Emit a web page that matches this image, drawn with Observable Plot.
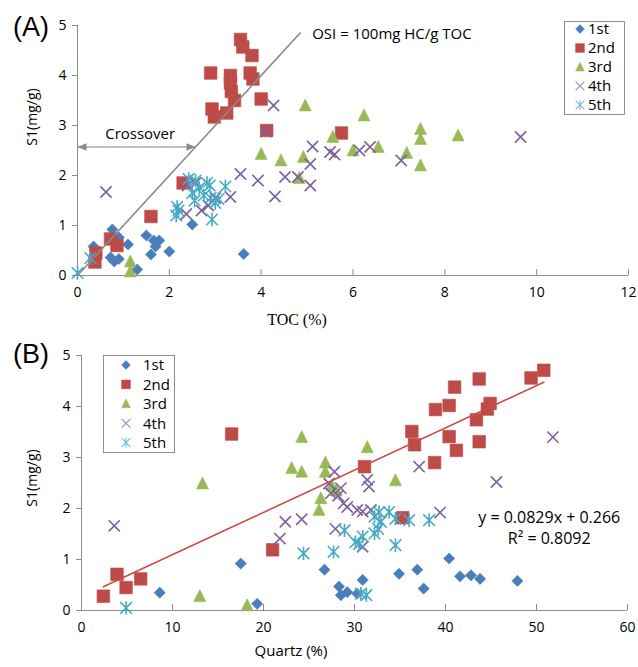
<!DOCTYPE html>
<html><head><meta charset="utf-8">
<script src="https://cdn.jsdelivr.net/npm/d3@7"></script>
<script src="https://cdn.jsdelivr.net/npm/@observablehq/plot@0.6"></script>
<style>
html,body{margin:0;padding:0;background:#fff;}
#wrap{position:relative;width:638px;height:667px;overflow:hidden;font-family:"Open Sans",sans-serif;color:#000;}
#wrap svg{display:block;}
.lbl{position:absolute;white-space:nowrap;line-height:1;}
.legend{position:absolute;border:1px solid #8c8c8c;background:#fff;box-sizing:border-box;}
.legend svg{overflow:visible;}
</style></head><body>
<div id="wrap"><div id="pa"></div><div id="pb"></div></div>
<script>
// ---------- data ----------
const seriesNames = ["1st", "2nd", "3rd", "4th", "5th"];
const seriesColors = ["#4A7EBB", "#BE4B48", "#98B954", "#7D60A0", "#46AAC5"];
const tocTicks = [0, 2, 4, 6, 8, 10, 12];
const quartzTicks = [0, 10, 20, 30, 40, 50, 60];
const s1Ticks = [0, 1, 2, 3, 4, 5];

// Panel A: [TOC (%), S1 (mg/g)]
const a1st = [[0.35,0.58],[0.76,0.92],[0.9,0.76],[1.1,0.62],[0.72,0.36],[0.9,0.33],[0.8,0.28],[1.3,0.12],[1.5,0.8],[1.66,0.7],[1.78,0.7],[1.6,0.42],[1.7,0.58],[2.0,0.48],[2.5,1.02],[3.62,0.43]];
const a2nd = [[0.38,0.27],[0.4,0.45],[0.72,0.73],[0.86,0.6],[1.6,1.18],[2.3,1.85],[2.9,4.05],[2.93,3.33],[2.98,3.17],[3.25,3.25],[3.33,4.0],[3.33,3.85],[3.35,3.68],[3.42,3.5],[3.55,4.72],[3.6,4.57],[3.8,4.4],[3.76,4.05],[3.82,3.93],[4.0,3.53],[4.12,2.9],[5.75,2.85]];
const a3rd = [[1.15,0.28],[1.15,0.08],[4.0,2.43],[4.43,2.3],[4.83,1.95],[4.92,2.37],[4.96,3.4],[5.56,2.77],[6.0,2.5],[6.24,3.2],[6.55,2.57],[7.17,2.45],[7.47,2.93],[7.47,2.73],[7.47,2.2],[8.29,2.8]];
const a4th = [[0.62,1.67],[2.37,1.23],[2.4,1.8],[2.57,1.85],[2.7,1.3],[2.85,1.4],[3.0,1.55],[3.33,1.57],[3.55,2.03],[3.93,1.9],[4.1,2.88],[4.27,3.4],[4.3,1.58],[4.52,1.97],[4.8,1.97],[5.07,2.23],[5.12,2.58],[5.07,1.8],[5.5,2.47],[5.6,2.42],[6.14,2.5],[6.37,2.57],[7.05,2.3],[9.65,2.77]];
const a5th = [[0.0,0.05],[0.28,0.35],[2.15,1.2],[2.17,1.37],[2.2,1.3],[2.42,1.93],[2.5,1.65],[2.55,1.5],[2.57,1.9],[2.65,1.75],[2.75,1.6],[2.82,1.85],[2.88,1.8],[2.9,1.55],[2.93,1.12],[3.0,1.45],[3.07,1.53],[3.22,1.78]];

// Panel B: [Quartz (%), S1 (mg/g)]
const b1st = [[8.6,0.35],[17.5,0.92],[19.3,0.13],[26.7,0.8],[28.3,0.47],[28.5,0.3],[29.2,0.36],[30.3,0.33],[30.9,0.6],[34.9,0.72],[36.9,0.8],[37.6,0.43],[40.4,1.02],[41.6,0.67],[42.8,0.69],[43.8,0.62],[47.9,0.58]];
const b2nd = [[2.4,0.28],[3.9,0.71],[4.9,0.45],[6.5,0.62],[16.5,3.46],[21.0,1.19],[31.1,2.82],[35.3,1.82],[36.3,3.51],[36.6,3.25],[38.9,3.94],[38.8,2.9],[40.4,3.41],[41.2,3.14],[40.4,4.02],[41.0,4.38],[43.7,4.54],[43.4,3.74],[43.7,3.31],[44.6,3.95],[44.9,4.06],[49.4,4.56],[50.8,4.71]];
const b3rd = [[13.0,0.28],[13.3,2.49],[18.2,0.1],[23.1,2.79],[24.2,3.4],[24.2,2.72],[26.1,1.97],[26.3,2.2],[26.8,2.9],[26.8,2.72],[27.5,2.45],[28.0,2.35],[31.4,3.2],[34.5,2.55]];
const b4th = [[3.6,1.66],[21.8,1.41],[22.4,1.74],[24.2,1.79],[27.2,2.49],[27.4,2.3],[27.8,2.72],[27.9,1.6],[28.2,2.25],[28.5,2.4],[28.8,2.1],[29.2,2.03],[30.3,1.97],[30.9,1.94],[30.9,1.25],[31.4,2.56],[31.6,2.43],[31.8,1.97],[37.1,2.82],[39.4,1.92],[45.6,2.52],[51.8,3.4]];
const b5th = [[4.9,0.05],[24.4,1.12],[27.7,1.15],[28.9,1.57],[30.1,1.34],[30.5,1.3],[30.7,0.33],[30.9,1.45],[31.3,0.3],[32.2,1.84],[32.2,1.51],[32.6,1.6],[32.7,1.93],[32.9,1.74],[33.8,1.93],[34.5,1.8],[34.5,1.28],[36.0,1.77],[38.2,1.77]];

// annotations
const osiTOC = [0, 4.85];            // OSI = 100 mg HC/g TOC  ->  S1 = TOC
const crossoverS1 = 2.57;            // dotted "Crossover" arrow level
const fitSlope = 0.0829, fitIntercept = 0.266;
const fitLabel = ["y = 0.0829x + 0.266", "R\u00b2 = 0.8092"];

// ---------- symbols (Excel-like markers) ----------
const half = s => Math.sqrt(s / Math.PI);
const symDiamond = {draw(c, s) { const h = half(s); c.moveTo(0, -h); c.lineTo(h, 0); c.lineTo(0, h); c.lineTo(-h, 0); c.closePath(); }};
const symSquare = {draw(c, s) { const h = half(s); c.moveTo(-h, -h); c.lineTo(h, -h); c.lineTo(h, h); c.lineTo(-h, h); c.closePath(); }};
const symTriangle = {draw(c, s) { const h = half(s); c.moveTo(0, -h * 1.1); c.lineTo(h, h * 0.9); c.lineTo(-h, h * 0.9); c.closePath(); }};
const symTimes = {draw(c, s) { const h = half(s); c.moveTo(-h, -h); c.lineTo(h, h); c.moveTo(-h, h); c.lineTo(h, -h); }};
const symStar = {draw(c, s) { const h = half(s); c.moveTo(-h, -h); c.lineTo(h, h); c.moveTo(-h, h); c.lineTo(h, -h); c.moveTo(0, -h * 1.15); c.lineTo(0, h * 1.15); }};
const symTipLeft = {draw(c) { c.moveTo(0, 0); c.lineTo(9, -3.8); c.lineTo(9, 3.8); c.closePath(); }};
const symTipRight = {draw(c) { c.moveTo(0, 0); c.lineTo(-9, -3.8); c.lineTo(-9, 3.8); c.closePath(); }};
const seriesSymbols = [symDiamond, symSquare, symTriangle, symTimes, symStar];
const seriesFilled = [true, true, true, false, false];
const seriesR = [5.6, 6.3, 6.0, 5.6, 5.8];

function seriesMarks(list) {
  return list.map((data, i) => Plot.dot(data, {
    x: d => d[0], y: d => d[1], symbol: seriesSymbols[i], r: seriesR[i],
    fill: seriesFilled[i] ? seriesColors[i] : "none",
    stroke: seriesColors[i], strokeWidth: seriesFilled[i] ? 0.6 : 1.6
  }));
}
const axisGray = "#8c8c8c";
function axesMarks(xTicks, plotH) {
  return [
    Plot.axisX(xTicks, {tickSize: 0, tickPadding: 12, label: null, tickFormat: d => String(d), fill: "#000", fontSize: 14}),
    Plot.axisY(s1Ticks, {tickSize: 5, tickPadding: 6, label: null, tickFormat: d => String(d), stroke: axisGray, fill: "#000", fontSize: 14}),
    Plot.tickX(xTicks, {x: d => d, stroke: axisGray, insetTop: plotH - 6}),
    Plot.ruleY([0], {stroke: axisGray}),
    Plot.ruleX([0], {stroke: axisGray})
  ];
}
const baseStyle = {fontFamily: "'Open Sans', sans-serif", fontSize: "14px", color: "#000", background: "transparent", overflow: "visible"};

// ---------- Panel A ----------
const A = {w: 638, h: 330, ml: 77, mr: 10, mt: 25, mb: 55};
const plotA = Plot.plot({
  width: A.w, height: A.h, marginLeft: A.ml, marginRight: A.mr, marginTop: A.mt, marginBottom: A.mb,
  x: {domain: [0, 12]}, y: {domain: [0, 5]}, style: baseStyle,
  marks: [
    ...axesMarks(tocTicks, A.h - A.mt - A.mb),
    ...seriesMarks([a1st, a2nd, a3rd, a4th, a5th]),
    Plot.line(osiTOC, {x: d => d, y: d => d, stroke: "#8a8a8a", strokeWidth: 1.6}),
    Plot.line([0, crossoverS1], {x: d => d, y: () => crossoverS1, stroke: "#9a9a9a", strokeWidth: 1.6, strokeDasharray: "1.6,1.6"}),
    Plot.dot([0], {x: d => d, y: () => crossoverS1, symbol: symTipLeft, fill: "#8a8a8a", stroke: "none"}),
    Plot.dot([crossoverS1], {x: d => d, y: () => crossoverS1, symbol: symTipRight, fill: "#8a8a8a", stroke: "none"}),
    Plot.text(["Crossover"], {x: () => crossoverS1 / 2 + 0.08, y: () => crossoverS1, dy: -8, lineAnchor: "bottom", textAnchor: "middle", fontSize: 15, fill: "#000"}),
    Plot.text(["OSI = 100mg HC/g TOC"], {x: () => osiTOC[1], y: () => osiTOC[1], dx: 12, dy: 6, lineAnchor: "bottom", textAnchor: "start", fontSize: 15, fill: "#000"})
  ]
});
document.getElementById("pa").append(plotA);

// ---------- Panel B ----------
const B = {w: 638, h: 337, ml: 81, mr: 11, mt: 25, mb: 57};
const fitX = d3.extent(b2nd, d => d[0]);
const plotB = Plot.plot({
  width: B.w, height: B.h, marginLeft: B.ml, marginRight: B.mr, marginTop: B.mt, marginBottom: B.mb,
  x: {domain: [0, 60]}, y: {domain: [0, 5]}, style: baseStyle,
  marks: [
    ...axesMarks(quartzTicks, B.h - B.mt - B.mb),
    ...seriesMarks([b1st, b2nd, b3rd, b4th, b5th]),
    Plot.line(fitX, {x: d => d, y: d => fitSlope * d + fitIntercept, stroke: "#D04A46", strokeWidth: 1.6}),
    Plot.text(fitLabel, {x: () => 51.4, y: (d, i) => 1.72 - i * 0.42, lineAnchor: "bottom", textAnchor: "middle", fontSize: 16, fill: "#000"})
  ]
});
document.getElementById("pb").append(plotB);

// ---------- labels & legends (HTML overlays) ----------
const wrap = document.getElementById("wrap");
function label(text, x, y, css) {
  const d = document.createElement("div");
  d.className = "lbl"; d.textContent = text;
  d.style.left = x + "px"; d.style.top = y + "px";
  Object.assign(d.style, css);
  wrap.append(d);
}
label("(A)", 31, 27, {fontFamily: "'Liberation Sans', Arial, sans-serif", fontSize: "27px", transform: "translate(-50%,-50%)"});
label("(B)", 31, 354, {fontFamily: "'Liberation Sans', Arial, sans-serif", fontSize: "27px", transform: "translate(-50%,-50%)"});
label("S1(mg/g)", 32, 117, {fontSize: "14px", transform: "translate(-50%,-50%) rotate(-90deg)"});
label("S1(mg/g)", 32, 478, {fontSize: "14px", transform: "translate(-50%,-50%) rotate(-90deg)"});
label("TOC (%)", 297, 320, {fontFamily: "'Liberation Serif', 'Times New Roman', serif", fontSize: "16px", transform: "translate(-50%,-50%)"});
label("Quartz (%)", 291, 650, {fontSize: "15px", transform: "translate(-50%,-50%)"});

function legend(box, rows) {
  const div = document.createElement("div");
  div.className = "legend";
  Object.assign(div.style, {left: box.x + "px", top: box.y + "px", width: box.w + "px", height: box.h + "px"});
  const svg = d3.create("svg").attr("width", box.w - 2).attr("height", box.h - 2);
  seriesNames.forEach((name, i) => {
    const cy = rows.y0 + i * rows.dy;
    const p = d3.symbol().type(seriesSymbols[i]).size(Math.PI * 4.4 * 4.4)();
    svg.append("path").attr("d", p).attr("transform", `translate(${rows.sx},${cy})`)
      .attr("fill", seriesFilled[i] ? seriesColors[i] : "none")
      .attr("stroke", seriesColors[i]).attr("stroke-width", seriesFilled[i] ? 0.5 : 1.1)
      .attr("stroke-opacity", seriesFilled[i] ? 1 : 0.75);
    svg.append("text").attr("x", rows.tx).attr("y", cy).attr("dy", "0.36em")
      .attr("font-family", "'Open Sans', sans-serif").attr("font-size", 15).attr("fill", "#000").text(name);
  });
  div.append(svg.node());
  wrap.append(div);
}
legend({x: 564, y: 21, w: 61, h: 94}, {y0: 7, dy: 19, sx: 15, tx: 23});
legend({x: 103, y: 355, w: 72, h: 98}, {y0: 9, dy: 19.4, sx: 22, tx: 39});
</script>
</body></html>
